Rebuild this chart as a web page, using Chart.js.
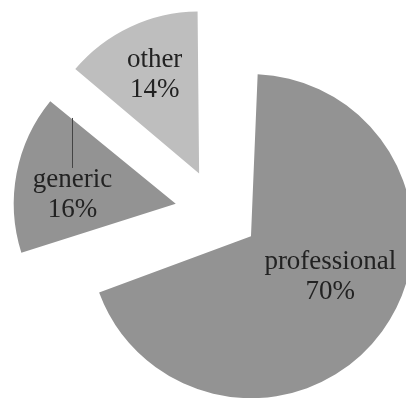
<!DOCTYPE html>
<html>
<head>
<meta charset="utf-8">
<script src="https://cdn.jsdelivr.net/npm/chart.js@4/dist/chart.umd.min.js"></script>
<style>
  html, body { margin: 0; padding: 0; background: #fff; }
  #wrap { width: 406px; height: 398px; }
</style>
</head>
<body>
<div id="wrap"><canvas id="pieChart"></canvas></div>
<script>
const categories = ["professional", "generic", "other"];
const shares = [70, 16, 14];

// slice styling
const sliceColors = ["#939393", "#939393", "#bebebe"];
const sliceOffset = 168;   // arcs get moved by offset / 4
const pieRadius = 162;
// where each label sits: fraction of radius and angle tweak (deg)
const labelRatio = [0.55, 0.64, 0.67];
const labelTurn = [-9, -6, 1];
const leaderLen = [0, 50, 0];

// chart.js also grows the radius of an offset arc; undo that so all slices share one radius
const evenRadius = {
  id: "evenRadius",
  beforeDatasetsDraw(chart) {
    chart.getDatasetMeta(0).data.forEach(arc => {
      const fix = 1 - Math.sin(Math.min(Math.PI, arc.circumference || 0));
      arc.outerRadius = pieRadius - (arc.options.offset || 0) / 4 * fix;
    });
  }
};

const pieLabels = {
  id: "pieLabels",
  afterDatasetsDraw(chart) {
    const ctx = chart.ctx;
    const meta = chart.getDatasetMeta(0);
    ctx.save();
    ctx.font = "27px 'Liberation Serif', 'DejaVu Serif', serif";
    ctx.fillStyle = "#222";
    ctx.strokeStyle = "#444";
    ctx.lineWidth = 1;
    ctx.textAlign = "center";
    ctx.textBaseline = "middle";
    meta.data.forEach((arc, i) => {
      const mid = (arc.startAngle + arc.endAngle) / 2;
      const shift = (arc.options.offset || 0) / 4;
      const cx = arc.x + Math.cos(mid) * shift;
      const cy = arc.y + Math.sin(mid) * shift;
      const a = mid + labelTurn[i] * Math.PI / 180;
      const d = labelRatio[i] * pieRadius;
      const lx = cx + Math.cos(a) * d;
      const ly = cy + Math.sin(a) * d;
      ctx.fillText(categories[i], lx, ly - 15);
      ctx.fillText(shares[i] + "%", lx, ly + 15);
      if (leaderLen[i]) {
        const top = ly - 15 - 12;
        ctx.beginPath();
        ctx.moveTo(Math.round(lx) + 0.5, top);
        ctx.lineTo(Math.round(lx) + 0.5, top - leaderLen[i]);
        ctx.stroke();
      }
    });
    ctx.restore();
  }
};

new Chart(document.getElementById("pieChart"), {
  type: "pie",
  data: {
    labels: categories,
    datasets: [{
      data: shares,
      backgroundColor: sliceColors,
      borderWidth: 0,
      offset: sliceOffset,
      hoverOffset: 0
    }]
  },
  options: {
    responsive: true,
    maintainAspectRatio: false,
    animation: false,
    radius: pieRadius,
    layout: { padding: { left: 28, top: 25, right: 0, bottom: 0 } },
    plugins: {
      legend: { display: false },
      tooltip: { enabled: false }
    }
  },
  plugins: [evenRadius, pieLabels]
});
</script>
</body>
</html>
